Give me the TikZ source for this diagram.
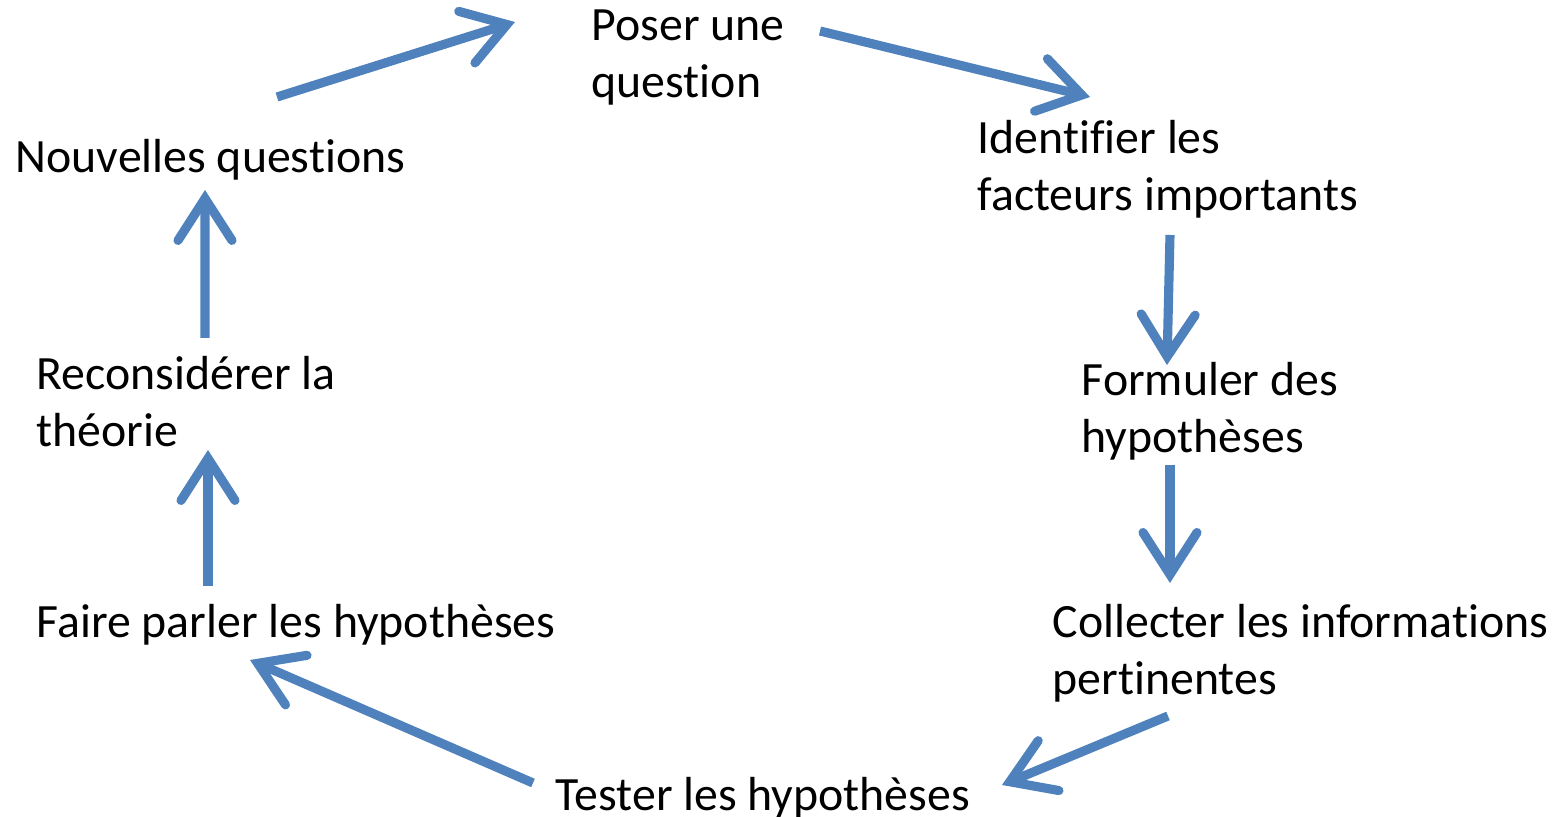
\documentclass[tikz,border=0pt]{standalone}
\usepackage{fontspec}
\setmainfont{Carlito}[Ligatures=NoCommon]
\usetikzlibrary{arrows.meta}
\definecolor{cycblue}{RGB}{79,129,189}
\tikzset{
  stage/.style={anchor=base west, align=left, inner sep=0pt, font=\fontsize{13.6}{16.2}\selectfont},
  cyc/.style={cycblue, line width=2.6pt,
    -{Straight Barb[length=4.2mm, width=5.4mm, line cap=round, line join=miter]}}
}
\begin{document}
\begin{tikzpicture}
\useasboundingbox (0,0) rectangle (15.66,8.17);
% base of a two-line node sits on its last line
\node[stage] (pq) at (5.91, 7.195) {Poser une\\question};
\node[stage] (if) at (9.77, 6.065) {Identifier les\\facteurs importants};
\node[stage] (fh) at (10.81, 3.645) {Formuler des\\hypothèses};
\node[stage] (ci) at (10.52, 1.225) {Collecter les informations\\pertinentes};
\node[stage] (th) at (5.55, 0.065) {Tester les hypothèses};
\node[stage] (fp) at (0.36, 1.795) {Faire parler les hypothèses};
\node[stage] (rt) at (0.36, 3.705) {Reconsidérer la\\théorie};
\node[stage] (nq) at (0.15, 6.445) {Nouvelles questions};
\draw[cyc] ([shift={(2.62,0.755)}]nq.base west) -- ([shift={(-0.76,0.755)}]pq.base west);
\draw[cyc] ([shift={(2.29,0.665)}]pq.base west) -- ([shift={(1.13,1.135)}]if.base west);
\draw[cyc] ([shift={(1.93,-0.245)}]if.base west) -- ([shift={(0.86,0.875)}]fh.base west);
\draw[cyc] ([shift={(0.89,-0.125)}]fh.base west) -- ([shift={(1.18,1.115)}]ci.base west);
\draw[cyc] ([shift={(1.16,-0.215)}]ci.base west) -- ([shift={(4.47,0.255)}]th.base west);
\draw[cyc] ([shift={(-0.22,0.275)}]th.base west) -- ([shift={(2.14,-0.225)}]fp.base west);
\draw[cyc] ([shift={(1.72,0.515)}]fp.base west) -- ([shift={(1.72,-0.035)}]rt.base west);
\draw[cyc] ([shift={(1.69,1.085)}]rt.base west) -- ([shift={(1.90,-0.175)}]nq.base west);
\end{tikzpicture}
\end{document}
